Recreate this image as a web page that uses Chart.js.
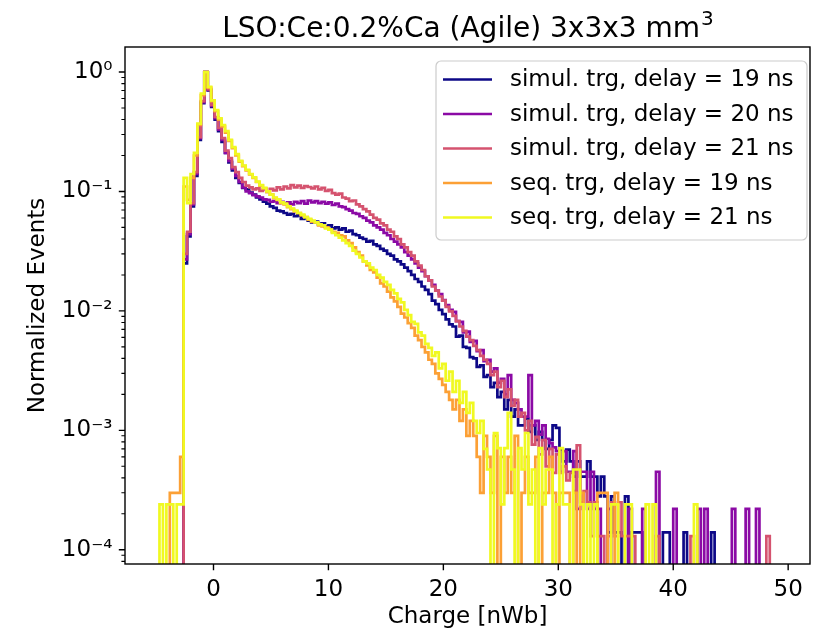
<!DOCTYPE html>
<html>
<head>
<meta charset="utf-8">
<title>LSO:Ce:0.2%Ca (Agile) 3x3x3 mm3</title>
<script src="https://cdn.jsdelivr.net/npm/chart.js@4.4.0/dist/chart.umd.min.js"></script>
<style>
  html, body { margin: 0; padding: 0; background: #ffffff; }
</style>
</head>
<body>
<canvas id="myChart" width="818" height="632"></canvas>
<script>
// Histogram bins: left edge of bin 0 and bin width (nWb)
const binStart = -5.0;
const binWidth = 0.3;

const seriesLabels = [
    "simul. trg, delay = 19 ns",
    "simul. trg, delay = 20 ns",
    "simul. trg, delay = 21 ns",
    "seq. trg, delay = 19 ns",
    "seq. trg, delay = 21 ns"
];

// Normalized events per bin (bin i starts at binStart + i*binWidth), 0 = empty bin
const simul19 = [
    0, 0, 0, 0, 0, 0, 0, 0,
    0.025, 0.042, 0.075, 0.135, 0.27, 0.55, 1.0,
    0.7, 0.51, 0.4, 0.32, 0.26, 0.21, 0.175, 0.15, 0.13, 0.118, 0.107,
    0.104, 0.098, 0.094, 0.089, 0.086, 0.082, 0.079, 0.075, 0.073, 0.069,
    0.068, 0.066, 0.064, 0.065, 0.062, 0.063, 0.059, 0.06, 0.057, 0.055,
    0.056, 0.053, 0.054, 0.051, 0.052, 0.049, 0.05, 0.048, 0.049, 0.046,
    0.047, 0.044, 0.043, 0.041, 0.04, 0.038, 0.0385, 0.036, 0.035, 0.033,
    0.032, 0.03, 0.029, 0.027, 0.026, 0.0245, 0.023, 0.0215, 0.02, 0.0185,
    0.0175, 0.016, 0.015, 0.0138, 0.0122, 0.0114, 0.0102, 0.0094, 0.0085, 0.0077,
    0.0074, 0.0061, 0.0062, 0.005, 0.0049, 0.0041, 0.004, 0.0034, 0.0035, 0.0028,
    0.0029, 0.0023, 0.0025, 0.0019, 0.0021, 0.0015, 0.0018, 0.0013, 0.0015, 0.0011,
    0.0011, 0.00125, 0.00097, 0.0011, 0.00083, 0.00097, 0.00083, 0.0007, 0.00083, 0.0011,
    0.00105, 0.00069, 0.00055, 0.00069, 0.00055, 0.00041, 0.00055, 0.00041, 0.00041, 0.00055,
    0.00041, 0.00041, 0.00028, 0.00041, 0.00028, 0.00014, 0.00028, 0.00014, 0.00014, 0,
    0.00028, 0, 0.00014, 0.00014, 0.00014, 0, 0, 0, 0, 0,
    0, 0.00014, 0.00014, 0, 0, 0, 0, 0.00014, 0, 0,
    0, 0, 0, 0, 0, 0.00014
];

const simul20 = [
    0, 0, 0, 0, 0, 0, 0, 0,
    0.027, 0.044, 0.078, 0.14, 0.28, 0.56, 1.0,
    0.71, 0.52, 0.41, 0.33, 0.27, 0.21, 0.18, 0.155, 0.135, 0.12, 0.108,
    0.1, 0.097, 0.093, 0.091, 0.089, 0.086, 0.085, 0.082, 0.083, 0.08,
    0.082, 0.079, 0.081, 0.078, 0.082, 0.08, 0.083, 0.079, 0.084, 0.081,
    0.083, 0.08, 0.082, 0.079, 0.081, 0.077, 0.079, 0.075, 0.074, 0.071,
    0.069, 0.066, 0.065, 0.062, 0.06, 0.057, 0.055, 0.052, 0.05, 0.048,
    0.045, 0.043, 0.04, 0.038, 0.036, 0.034, 0.031, 0.029, 0.027, 0.025,
    0.023, 0.0215, 0.0195, 0.018, 0.0165, 0.0148, 0.0138, 0.0123, 0.0112, 0.0102,
    0.0098, 0.0082, 0.0081, 0.0066, 0.0067, 0.0055, 0.0056, 0.0046, 0.0047, 0.0038,
    0.0039, 0.0031, 0.0033, 0.0025, 0.0027, 0.002, 0.0029, 0.0018, 0.0017, 0.0015,
    0.0013, 0.0013, 0.0029, 0.0011, 0.0012, 0.00092, 0.0011, 0.00085, 0.00078, 0.00072,
    0.00067, 0.00045, 0.00067, 0.00045, 0.00045, 0.00067, 0.00022, 0.00045, 0.00045, 0.00022,
    0.00045, 0.00022, 0.00022, 0, 0, 0.00022, 0, 0, 0, 0,
    0, 0.00022, 0, 0, 0, 0.00022, 0, 0, 0, 0.00045,
    0, 0, 0, 0, 0.00022, 0, 0, 0, 0, 0,
    0, 0.00022, 0, 0.00022, 0, 0, 0, 0, 0, 0,
    0, 0.00022, 0, 0, 0, 0.00022, 0, 0, 0.00022
];

const simul21 = [
    0, 0, 0, 0, 0, 0, 0, 0,
    0.03, 0.046, 0.08, 0.145, 0.285, 0.57, 1.0,
    0.72, 0.53, 0.42, 0.34, 0.28, 0.22, 0.19, 0.16, 0.145, 0.13, 0.12,
    0.112, 0.108, 0.104, 0.106, 0.101, 0.104, 0.099, 0.105, 0.102, 0.108,
    0.104, 0.11, 0.106, 0.113, 0.108, 0.112, 0.107, 0.111, 0.109, 0.106,
    0.11, 0.104, 0.107, 0.101, 0.103, 0.097, 0.094, 0.096, 0.089, 0.087,
    0.083, 0.084, 0.078, 0.075, 0.071, 0.068, 0.064, 0.06, 0.058, 0.054,
    0.052, 0.048, 0.046, 0.042, 0.04, 0.036, 0.034, 0.031, 0.029, 0.026,
    0.024, 0.022, 0.0195, 0.018, 0.016, 0.0148, 0.0132, 0.0122, 0.0108, 0.0099,
    0.0091, 0.0082, 0.0074, 0.0068, 0.0061, 0.0057, 0.0051, 0.0047, 0.0042, 0.0039,
    0.0036, 0.0029, 0.0031, 0.0023, 0.0026, 0.0019, 0.0022, 0.0016, 0.0018, 0.0013,
    0.0014, 0.001, 0.0012, 0.00076, 0.00088, 0.00063, 0.00083, 0.0005, 0.0007, 0.00044,
    0.00063, 0.00044, 0.0005, 0.00038, 0.00044, 0.00031, 0.00075, 0.00025, 0.00031, 0.00025,
    0.00013, 0.00025, 0.00013, 0.00013, 0, 0.00013, 0.00025, 0.00013, 0.00025, 0.00013,
    0.00013, 0.00013, 0.00013, 0, 0, 0, 0, 0, 0, 0.00013,
    0, 0, 0, 0, 0, 0, 0, 0, 0, 0.00013,
    0, 0, 0, 0, 0, 0, 0, 0, 0, 0,
    0, 0, 0, 0, 0, 0, 0, 0, 0, 0,
    0, 0.00013
];

const seq19 = [
    0, 0, 0, 0, 0.0003, 0.0003, 0.0003, 0.0006,
    0.11, 0.085, 0.13, 0.2, 0.36, 0.64, 1.0,
    0.74, 0.57, 0.47, 0.4, 0.35, 0.31, 0.265, 0.23, 0.2, 0.178, 0.163,
    0.15, 0.139, 0.13, 0.12, 0.112, 0.106, 0.099, 0.094, 0.088, 0.085,
    0.08, 0.078, 0.074, 0.071, 0.068, 0.066, 0.063, 0.061, 0.058, 0.056,
    0.055, 0.052, 0.051, 0.05, 0.048, 0.046, 0.045, 0.043, 0.042, 0.039,
    0.037, 0.034, 0.031, 0.029, 0.026, 0.024, 0.022, 0.021, 0.019, 0.017,
    0.016, 0.0145, 0.013, 0.012, 0.0108, 0.0095, 0.0088, 0.0079, 0.0072, 0.0062,
    0.0057, 0.005, 0.0045, 0.0039, 0.0036, 0.003, 0.0027, 0.0024, 0.0021, 0.0018,
    0.0015, 0.0018, 0.0012, 0.0015, 0.0009, 0.0012, 0.0009, 0.0006, 0.0003, 0.0009,
    0.0006, 0.0003, 0.0009, 0, 0.0006, 0.0003, 0.0006, 0.0003, 0.0009, 0,
    0.0003, 0.0006, 0.0003, 0.0003, 0.0006, 0, 0.0003, 0.0003, 0.0006, 0.0003,
    0, 0.0003, 0.0003, 0.0003, 0, 0.0003, 0, 0.0003, 0, 0,
    0, 0, 0.0003, 0.0003, 0.0003, 0, 0, 0.0003
];

const seq21 = [
    0, 0.00024, 0, 0.00024, 0.00024, 0, 0.00024, 0.00024,
    0.13, 0.08, 0.14, 0.21, 0.37, 0.66, 1.0,
    0.75, 0.58, 0.48, 0.41, 0.36, 0.32, 0.27, 0.235, 0.205, 0.18, 0.165,
    0.152, 0.14, 0.131, 0.121, 0.113, 0.107, 0.1, 0.094, 0.089, 0.086,
    0.081, 0.079, 0.075, 0.072, 0.069, 0.066, 0.064, 0.061, 0.059, 0.057,
    0.055, 0.053, 0.052, 0.049, 0.048, 0.045, 0.043, 0.041, 0.039, 0.037,
    0.035, 0.032, 0.03, 0.028, 0.026, 0.025, 0.023, 0.022, 0.02, 0.019,
    0.0175, 0.0165, 0.015, 0.014, 0.0126, 0.0118, 0.0102, 0.0092, 0.0081, 0.0078,
    0.0066, 0.0062, 0.0053, 0.0049, 0.0042, 0.0045, 0.0033, 0.0036, 0.0026, 0.0031,
    0.0021, 0.0026, 0.0017, 0.0021, 0.0014, 0.0017, 0.0012, 0.00095, 0.0012, 0.0007,
    0.00047, 0, 0.00095, 0.00071, 0.00024, 0.00071, 0.0014, 0.00047, 0, 0.00071,
    0.00047, 0.00095, 0.00024, 0.00047, 0, 0.00071, 0.00024, 0.00047, 0.00047, 0,
    0.00024, 0.00071, 0.00024, 0.00024, 0, 0.00047, 0.00047, 0.00024, 0, 0.00024,
    0, 0.00024, 0, 0, 0, 0, 0.00024, 0.00024, 0, 0,
    0.00024, 0.00024, 0, 0, 0, 0, 0.00024, 0, 0.00024, 0,
    0, 0, 0, 0, 0, 0, 0, 0, 0, 0,
    0.00024
];

const seriesValues = [simul19, simul20, simul21, seq19, seq21];
const seriesColors = ["#0d0887", "#8b0aa5", "#d5536f", "#fca035", "#f0f921"];

const xTicks = [0, 10, 20, 30, 40, 50];
const yDecades = [1e-4, 1e-3, 1e-2, 1e-1, 1];

const xMin = -7.7, xMax = 51.9;
const yMin = 7.6e-5, yMax = 1.62;
const emptyLevel = 1e-7; // empty bins drop below the axis, like log(0)

const fontFamily = '"DejaVu Sans", sans-serif';

// bin centers with a step at each bin edge
function histPoints(values) {
    const pts = [{ x: binStart - binWidth / 2, y: emptyLevel }];
    values.forEach(function (v, i) {
        pts.push({ x: binStart + (i + 0.5) * binWidth, y: v > 0 ? v : emptyLevel });
    });
    pts.push({ x: binStart + (values.length + 0.5) * binWidth, y: emptyLevel });
    return pts;
}

const supMap = { "-": "\u207B", "0": "\u2070", "1": "\u00B9", "2": "\u00B2", "3": "\u00B3", "4": "\u2074" };
function decadeLabel(v) {
    const e = String(Math.round(Math.log10(v)));
    return "10" + e.split("").map(function (c) { return supMap[c]; }).join("");
}

// axes frame and tick marks, matplotlib style
const framePlugin = {
    id: "frame",
    afterDatasetsDraw(chart) {
        const ctx = chart.ctx;
        const a = chart.chartArea;
        const x = chart.scales.x, y = chart.scales.y;
        ctx.save();
        ctx.strokeStyle = "#000";
        ctx.lineWidth = 1.4;
        ctx.beginPath();
        xTicks.forEach(function (v) {
            const px = x.getPixelForValue(v);
            ctx.moveTo(px, a.bottom);
            ctx.lineTo(px, a.bottom + 6.2);
        });
        yDecades.forEach(function (v) {
            const py = y.getPixelForValue(v);
            ctx.moveTo(a.left - 6.2, py);
            ctx.lineTo(a.left, py);
        });
        ctx.stroke();
        ctx.lineWidth = 1.1;
        ctx.beginPath();
        for (let e = -5; e <= 0; e++) {
            for (let k = 2; k < 10; k++) {
                const v = k * Math.pow(10, e);
                if (v < yMin || v > yMax) continue;
                const py = y.getPixelForValue(v);
                ctx.moveTo(a.left - 3.6, py);
                ctx.lineTo(a.left, py);
            }
        }
        ctx.stroke();
        ctx.lineWidth = 1.4;
        ctx.strokeRect(a.left, a.top, a.right - a.left, a.bottom - a.top);
        ctx.restore();
    }
};

// title with superscript and framed legend in the upper right
const decorPlugin = {
    id: "decor",
    afterDraw(chart) {
        const ctx = chart.ctx;
        const a = chart.chartArea;
        ctx.save();
        ctx.fillStyle = "#000";
        ctx.textBaseline = "alphabetic";
        ctx.font = "28px " + fontFamily;
        const main = "LSO:Ce:0.2%Ca (Agile) 3x3x3 mm";
        const wMain = ctx.measureText(main).width;
        ctx.font = "20px " + fontFamily;
        const wSup = ctx.measureText("3").width;
        const left = (a.left + a.right) / 2 - (wMain + wSup) / 2;
        ctx.font = "28px " + fontFamily;
        ctx.fillText(main, left, 37);
        ctx.font = "20px " + fontFamily;
        ctx.fillText("3", left + wMain + 1, 25);

        // legend box
        const bx = 436, by = 61, bw = 371, bh = 179, r = 5;
        ctx.beginPath();
        ctx.moveTo(bx + r, by);
        ctx.arcTo(bx + bw, by, bx + bw, by + bh, r);
        ctx.arcTo(bx + bw, by + bh, bx, by + bh, r);
        ctx.arcTo(bx, by + bh, bx, by, r);
        ctx.arcTo(bx, by, bx + bw, by, r);
        ctx.closePath();
        ctx.fillStyle = "rgba(255,255,255,0.8)";
        ctx.fill();
        ctx.strokeStyle = "#cccccc";
        ctx.lineWidth = 1.2;
        ctx.stroke();

        ctx.font = "23px " + fontFamily;
        ctx.textBaseline = "middle";
        chart.data.datasets.forEach(function (ds) {
            const k = ds.legendIndex;
            const ry = 79.5 + k * 34.5;
            ctx.strokeStyle = ds.borderColor;
            ctx.lineWidth = 2.7;
            ctx.beginPath();
            ctx.moveTo(443, ry);
            ctx.lineTo(492, ry);
            ctx.stroke();
            ctx.fillStyle = "#000";
            ctx.fillText(ds.label, 510, ry + 1);
        });
        ctx.restore();
    }
};

const datasets = seriesValues.map(function (vals, i) {
    return {
        label: seriesLabels[i],
        legendIndex: i,
        data: histPoints(vals),
        borderColor: seriesColors[i],
        backgroundColor: seriesColors[i],
        borderWidth: 2.7,
        pointRadius: 0,
        fill: false,
        stepped: "middle",
        order: seriesValues.length - i
    };
});

Chart.defaults.font.family = fontFamily;
Chart.defaults.font.size = 23;
Chart.defaults.color = "#000";

const ctx = document.getElementById("myChart").getContext("2d");
const myChart = new Chart(ctx, {
    type: "line",
    data: { datasets: datasets },
    options: {
        responsive: false,
        animation: false,
        devicePixelRatio: 1,
        layout: { padding: { top: 47, right: 8, left: 0, bottom: 0 } },
        plugins: {
            legend: { display: false },
            tooltip: { enabled: false },
            title: { display: false }
        },
        scales: {
            x: {
                type: "linear",
                min: xMin,
                max: xMax,
                grid: { display: false, drawTicks: false },
                border: { display: false },
                afterBuildTicks: function (scale) {
                    scale.ticks = xTicks.map(function (v) { return { value: v }; });
                },
                afterFit: function (scale) { scale.height = 68; },
                ticks: {
                    padding: 12,
                    autoSkip: false,
                    maxRotation: 0,
                    callback: function (v) { return String(v); }
                },
                title: {
                    display: true,
                    text: "Charge [nWb]",
                    font: { size: 23, lineHeight: 1.0 },
                    padding: { top: 0, bottom: 3 }
                }
            },
            y: {
                type: "logarithmic",
                min: yMin,
                max: yMax,
                grid: { display: false, drawTicks: false },
                border: { display: false },
                afterBuildTicks: function (scale) {
                    scale.ticks = yDecades.map(function (v) { return { value: v }; });
                },
                afterFit: function (scale) { scale.width = 125; },
                ticks: {
                    padding: 12.5,
                    autoSkip: false,
                    callback: function (v) { return decadeLabel(v); }
                },
                title: {
                    display: true,
                    text: "Normalized Events",
                    padding: { top: 24, bottom: 0 }
                }
            }
        }
    },
    plugins: [framePlugin, decorPlugin]
});
</script>
</body>
</html>
